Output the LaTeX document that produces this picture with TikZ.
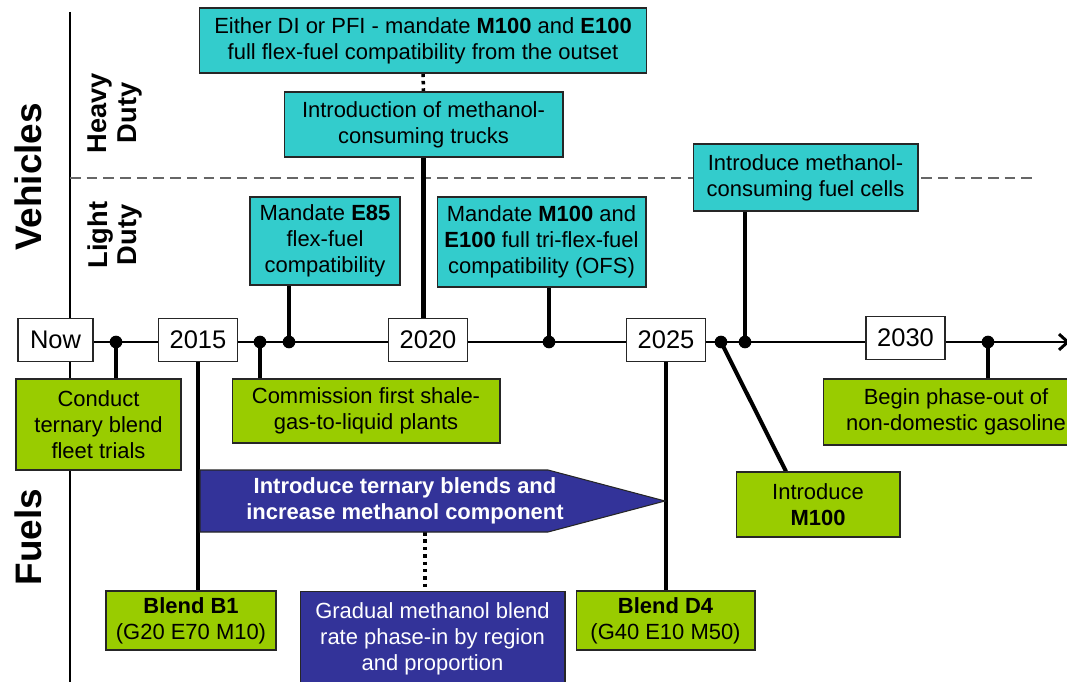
\documentclass[tikz,border=0pt]{standalone}
\usepackage{fontspec}
\setmainfont{Liberation Sans}
\usepackage{xcolor}
\usepackage{tikz}
\usetikzlibrary{backgrounds,calc,arrows.meta}
\definecolor{cyan1} {RGB} {51, 204, 204}
\definecolor{lime1} {RGB} {153, 204, 0}
\definecolor{navy1} {RGB} {51, 51, 153}
\tikzstyle{road}=[
  x=0.02cm, y=-0.02cm, font=\fontsize{12.5}{14.8}\selectfont
]
\tikzstyle{roadbox}=[
  draw=black!85, line width=0.6pt, align=center, inner sep=2pt
]
\tikzstyle{vehbox}=[
  roadbox, fill=cyan1
]
\tikzstyle{fuelbox}=[
  roadbox, fill=lime1
]
\tikzstyle{bluebox}=[
  roadbox, fill=navy1, text=white
]
\tikzstyle{yearbox}=[
  roadbox, fill=white, minimum width=1.58cm, minimum height=0.86cm,
  font=\fontsize{14.5}{16}\selectfont
]
\tikzstyle{sidelabel}=[
  rotate=90, font=\bfseries\fontsize{21}{24}\selectfont
]
\tikzstyle{dutylabel}=[
  rotate=90, align=center, font=\bfseries\fontsize{15.5}{17}\selectfont
]
\tikzstyle{roadlink}=[
  line width=2.3pt
]
\tikzstyle{roaddots}=[
  line width=2pt, dash pattern=on 2pt off 2.2pt
]
\tikzstyle{timeline}=[
  line width=1.7pt, -{Straight Barb[length=5pt,width=9pt]}
]
\tikzstyle{axisline}=[
  line width=1.4pt
]
\tikzstyle{dutydash}=[
  draw=black!60, line width=0.8pt, dash pattern=on 6pt off 3.5pt
]
\begin{document}
\begin{tikzpicture}[road]
\useasboundingbox (0,0) rectangle (1067,682);

\node (veh) [sidelabel] at (28,177) {Vehicles};
\node (fuel) [sidelabel] at (28,537) {Fuels};
\node (heavy) [dutylabel] at (115,113) {Heavy\\Duty};
\node (light) [dutylabel] at (115,235) {Light\\Duty};

\node (now) [yearbox, minimum width=1.5cm] at (55.5,340) {Now};
\node (y2015) [yearbox] at (198,340) {2015};
\node (y2020) [yearbox] at (428,340) {2020};
\node (y2025) [yearbox] at (666,340) {2025};
\node (y2030) [yearbox] at (905.5,338) {2030};

\node (flex) [vehbox, minimum width=8.96cm, minimum height=1.3cm] at (423,40.5)
  {Either DI or PFI - mandate \textbf{M100} and \textbf{E100}\\full flex-fuel compatibility from the outset};
\node (trucks) [vehbox, minimum width=5.58cm, minimum height=1.3cm] at (423.5,124.5)
  {Introduction of methanol-\\consuming trucks};
\node (e85) [vehbox, minimum width=3cm, minimum height=1.76cm] at (325,241)
  {Mandate \textbf{E85}\\flex-fuel\\compatibility};
\node (ofs) [vehbox, minimum width=4.18cm, minimum height=1.8cm] at (541.5,242)
  {Mandate \textbf{M100} and\\\textbf{E100} full tri-flex-fuel\\compatibility (OFS)};
\node (cells) [vehbox, minimum width=4.5cm, minimum height=1.34cm] at (805.5,177.5)
  {Introduce methanol-\\consuming fuel cells};

\node (trials) [fuelbox, minimum width=3.3cm, minimum height=1.82cm] at (98.5,424.5)
  {Conduct\\ternary blend\\fleet trials};
\node (gtl) [fuelbox, minimum width=5.36cm, minimum height=1.28cm] at (366,411)
  {Commission first shale-\\gas-to-liquid plants};
\node (phaseout) [fuelbox, minimum width=5.3cm, minimum height=1.32cm] at (956,412)
  {Begin phase-out of\\non-domestic gasoline};
\node (intro) [fuelbox, minimum width=3.28cm, minimum height=1.3cm] at (818,504.5)
  {Introduce\\\textbf{M100}};
\node (blendb1) [fuelbox, minimum width=3.4cm, minimum height=1.18cm] at (191,620.5)
  {\textbf{Blend B1}\\(G20 E70 M10)};
\node (blendd4) [fuelbox, minimum width=3.58cm, minimum height=1.18cm] at (665.5,620.5)
  {\textbf{Blend D4}\\(G40 E10 M50)};
\node (phasein) [bluebox, minimum width=5.3cm, minimum height=1.9cm, anchor=north] at (432.5,591)
  {Gradual methanol blend\\rate phase-in by region\\and proportion};

\fill [navy1, draw=black!85, line width=0.6pt]
  (200,470) -- (548,470) -- (665,501) -- (548,532) -- (200,532) -- cycle;
\node (blendtxt) [align=center, text=white, font=\bfseries\fontsize{12.5}{14.8}\selectfont] at (405,501)
  {Introduce ternary blends and\\increase methanol component};
\coordinate (arrowbase) at (425,532);

\coordinate (tl) at (1070,342);
\coordinate (dot1) at (116,342);
\coordinate (dot2) at (260,342);
\coordinate (dot3) at (289,342);
\coordinate (dot4) at (549,342);
\coordinate (dot5) at (721,342);
\coordinate (dot6) at (745,342);
\coordinate (dot7) at (988,342);

\begin{scope}[on background layer]
\draw [axisline] (70,12) -- (70,682);
\draw [dutydash] (70,178) -- (1032,178);
\draw [timeline] (now.east |- tl) -- (tl);
\draw [roadlink] (dot1) -- (dot1 |- trials.north);
\draw [roadlink] (dot2) -- (dot2 |- gtl.north);
\draw [roadlink] (dot3) -- (dot3 |- e85.south);
\draw [roadlink] (dot4) -- (dot4 |- ofs.south);
\draw [roadlink] (dot5) -- ([xshift=-0.64cm]intro.north);
\draw [roadlink] (dot6) -- (dot6 |- cells.south);
\draw [roadlink] (dot7) -- (dot7 |- phaseout.north);
\draw [roadlink] (trucks.south) -- (trucks.south |- y2020.north);
\draw [roaddots] (flex.south) -- (trucks.north);
\draw [roadlink] (y2015.south) -- (y2015.south |- blendb1.north);
\draw [roadlink] (y2025.south) -- (y2025.south |- blendd4.north);
\draw [roaddots] (arrowbase) -- (arrowbase |- phasein.north);
\foreach \d in {dot1,dot2,dot3,dot4,dot5,dot6,dot7}
  \fill (\d) circle [radius=3.6pt];
\end{scope}
\end{tikzpicture}
\end{document}
